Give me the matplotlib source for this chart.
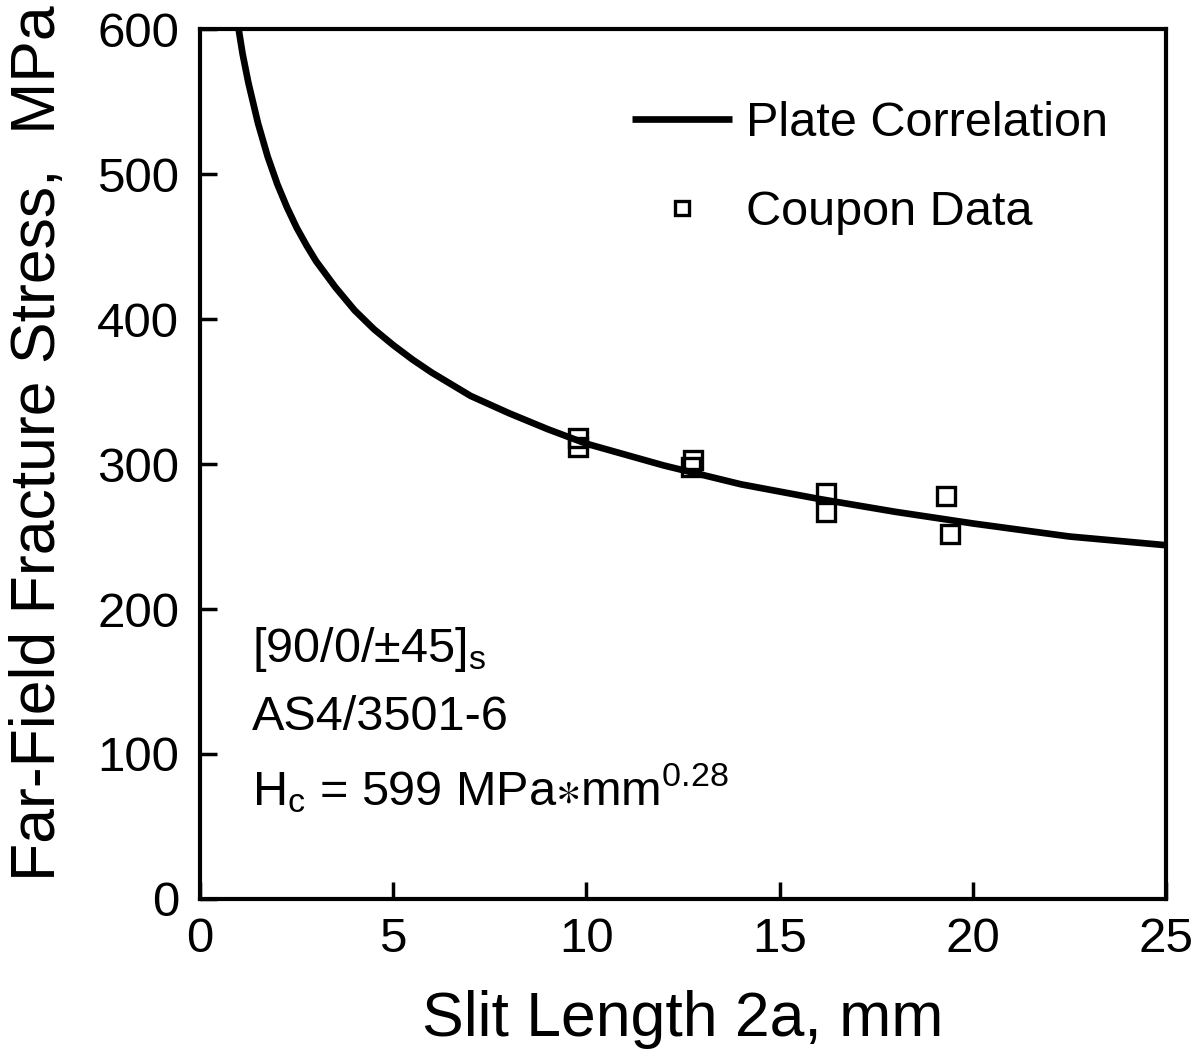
import numpy as np
import matplotlib.pyplot as plt

plt.rcParams['font.family'] = ['Liberation Sans', 'DejaVu Sans']
plt.rcParams['mathtext.fontset'] = 'custom'
plt.rcParams['mathtext.rm'] = 'Liberation Sans'
plt.rcParams['mathtext.it'] = 'Liberation Sans:italic'
plt.rcParams['mathtext.fallback'] = 'stixsans'

# %% Data
# plate correlation curve (points along the drawn line)
slit_curve = [0.95, 1.1, 1.25, 1.5, 1.75, 2, 2.25, 2.5, 2.75, 3, 3.5, 4, 4.5, 5, 5.5,
              6, 7, 8, 9, 10, 12, 14, 16, 18, 20, 22.5, 25]
stress_curve = [608, 583, 563, 535, 512, 493, 477, 463, 451, 440, 422, 406, 393, 382, 372,
                363, 347, 335, 324, 314, 299, 286, 276, 267, 259, 250, 244]

# coupon data
slit_coupon = [9.78, 9.78, 12.76, 12.7, 16.2, 16.2, 19.3, 19.4]
stress_coupon = [318, 312, 303, 298, 280, 267, 278, 252]

xticks = [0, 5, 10, 15, 20, 25]
yticks = [0, 100, 200, 300, 400, 500, 600]

# %% Plot
fig = plt.figure(figsize=(12.03, 10.6), dpi=100)
ax = fig.add_axes([0.1663, 0.1519, 0.8030, 0.8207])

ax.plot(slit_curve, stress_curve, color='black', lw=4.8, solid_capstyle='butt',
        solid_joinstyle='round', label='Plate Correlation')
ax.plot(slit_coupon, stress_coupon, ls='none', marker='s', ms=13, mfc='none',
        mec='black', mew=2.4, label='Coupon Data')

ax.set_xlim(0, 25)
ax.set_ylim(0, 600)
ax.set_xticks(xticks)
ax.set_yticks(yticks)
ax.tick_params(direction='in', length=12, width=2.5, labelsize=35.5,
               top=False, right=False)
ax.tick_params(axis='x', pad=13)
ax.tick_params(axis='y', pad=15)
for s in ax.spines.values():
    s.set_linewidth(3)

ax.set_xlabel('Slit Length 2a, mm', fontsize=45, labelpad=20)
ax.set_ylabel('Far-Field Fracture Stress,  MPa', fontsize=45)
ax.yaxis.set_label_coords(-0.137, 0.524)

ax.legend(loc='upper left', bbox_to_anchor=(0.422, 0.945), frameon=False,
          fontsize=35, handlelength=2.05, handletextpad=0.3, labelspacing=0.9,
          markerscale=0.75, borderpad=0)

ax.text(0.054, 0.272, r'[90/0/$\mathregular{\pm}$45]$\mathregular{_s}$',
        transform=ax.transAxes, fontsize=35, va='baseline')
ax.text(0.054, 0.194, 'AS4/3501-6', transform=ax.transAxes, fontsize=35, va='baseline')
ax.text(0.054, 0.108, r'H$\mathregular{_c}$ = 599 MPa$\ast$mm$\mathregular{^{0.28}}$',
        transform=ax.transAxes, fontsize=35, va='baseline')

fig.savefig('out.png', dpi=100)
